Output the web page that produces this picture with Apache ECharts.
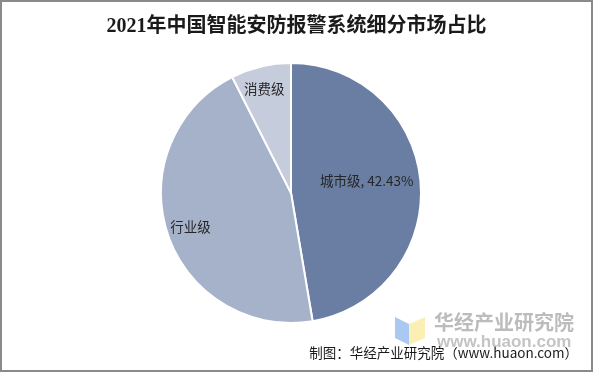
<!DOCTYPE html>
<html>
<head>
<meta charset="utf-8">
<script src="https://cdn.jsdelivr.net/npm/echarts@6/dist/echarts.min.js"></script>
<style>
html,body{margin:0;padding:0;background:#fff;}
#c{width:593px;height:372px;box-sizing:border-box;border:2px solid #8a8a8a;}
</style>
</head>
<body>
<div id="c"></div>
<script>
const titleText = '2021年中国智能安防报警系统细分市场占比';
const categories = ['城市级', '行业级', '消费级'];
const values = [42.43, 40.5, 6.7];
const showValue = [true, false, false];
const colors = ['#6a7ea3', '#a6b2c9', '#c5ccdb'];
const sourceText = '制图：华经产业研究院（www.huaon.com）';
const labelShift = [[8, -6], [-36, 13], [-11, -38]];

const chart = echarts.init(document.getElementById('c'), null, {renderer: 'canvas'});
chart.setOption({
  animation: false,
  backgroundColor: '#fff',
  title: {
    text: titleText,
    left: 'center',
    top: 10,
    textStyle: {
      fontFamily: '"Liberation Serif", "Noto Sans CJK SC", serif',
      fontSize: 20,
      fontWeight: 'bold',
      color: '#1a1a1a'
    }
  },
  graphic: [
    {type: 'polygon', z: 1, shape: {points: [[393,315],[407,322],[407,343],[393,336]]}, style: {fill: '#a9c9f2'}},
    {type: 'polygon', z: 1, shape: {points: [[407,322],[423,315],[423,336],[407,343]]}, style: {fill: '#fcefb4'}},
    {type: 'text', z: 1, left: 432, top: 310, style: {text: '华经产业研究院', font: 'bold 20px "Noto Sans CJK SC"', fill: '#bcbcbc'}},
    {type: 'text', z: 1, left: 435, top: 332, style: {text: 'www.huaon.com', font: 'bold 17px "Liberation Sans"', fill: '#c4c4c4'}},
    {type: 'text', z: 10, right: 13, top: 344, style: {text: sourceText, font: '13.5px "Noto Sans CJK SC"', fill: '#1a1a1a'}}
  ],
  series: [{
    type: 'pie',
    center: [289, 191],
    radius: 130,
    startAngle: 90,
    clockwise: true,
    data: categories.map((n, i) => ({name: n, value: values[i], itemStyle: {color: colors[i]}})),
    itemStyle: {borderColor: '#fff', borderWidth: 2},
    label: {
      show: true,
      position: 'inside',
      fontFamily: '"Noto Sans CJK SC", "Liberation Sans", sans-serif',
      fontSize: 13.5,
      color: '#262626',
      formatter: p => showValue[p.dataIndex] ? p.name + ', ' + p.value + '%' : p.name
    },
    labelLayout: p => ({dx: labelShift[p.dataIndex][0], dy: labelShift[p.dataIndex][1]}),
    labelLine: {show: false},
    emphasis: {disabled: true}
  }]
});
</script>
</body>
</html>
